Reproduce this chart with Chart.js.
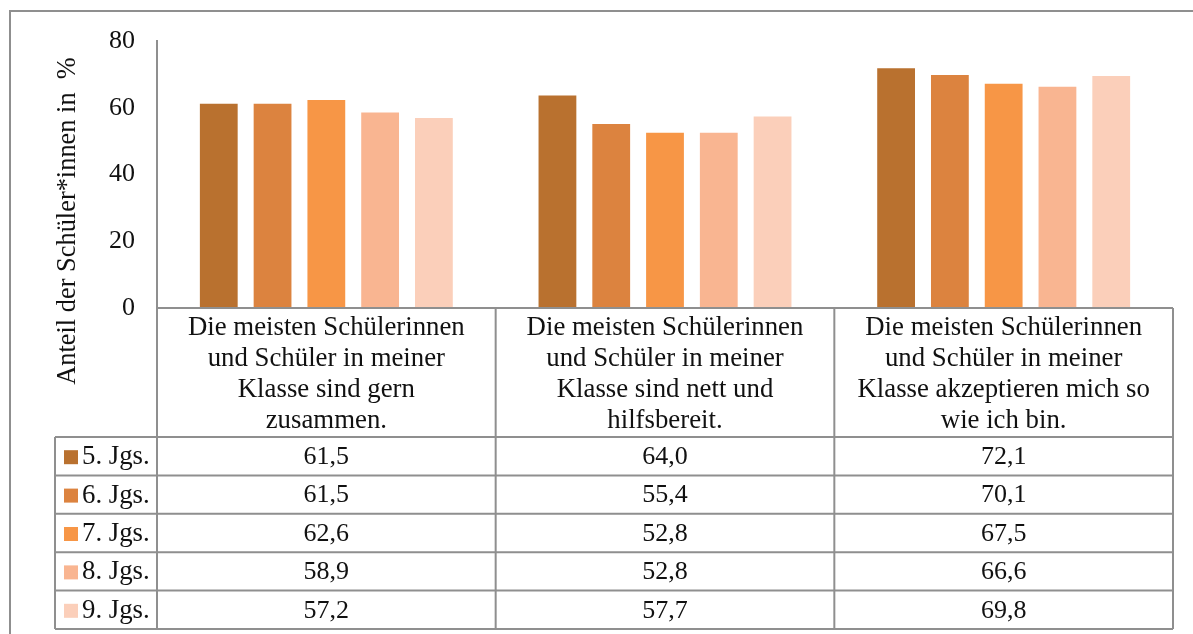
<!DOCTYPE html>
<html>
<head>
<meta charset="utf-8">
<script src="https://cdn.jsdelivr.net/npm/chart.js@4"></script>
<style>
  html, body { margin: 0; padding: 0; background: #fff; }
  #wrap { width: 1193px; height: 634px; position: relative; }
</style>
</head>
<body>
<div id="wrap"><canvas id="chart"></canvas></div>
<script>
// ── data ──
const categories = [
  ['Die meisten Schülerinnen', 'und Schüler in meiner', 'Klasse sind gern', 'zusammen.'],
  ['Die meisten Schülerinnen', 'und Schüler in meiner', 'Klasse sind nett und', 'hilfsbereit.'],
  ['Die meisten Schülerinnen', 'und Schüler in meiner', 'Klasse akzeptieren mich so', 'wie ich bin.'],
];
const seriesNames = ['5. Jgs.', '6. Jgs.', '7. Jgs.', '8. Jgs.', '9. Jgs.'];
const jgs5 = [61.5, 64.0, 72.1];
const jgs6 = [61.5, 55.4, 70.1];
const jgs7 = [62.6, 52.8, 67.5];
const jgs8 = [58.9, 52.8, 66.6];
const jgs9 = [57.2, 57.7, 69.8];
const yTicks = [0, 20, 40, 60, 80];
const yTitle = 'Anteil der Schüler*innen in  %';

const seriesValues = [jgs5, jgs6, jgs7, jgs8, jgs9];
const colors = ['#B9712F', '#DC833F', '#F79646', '#F9B591', '#FBCFBA'];

const FONT = '"Liberation Serif", "Times New Roman", serif';
const LINE = '#8f8f8f';

/** Draws frame, axis title and the data table under the plot */
const tablePlugin = {
  id: 'dataTable',
  afterDraw(chart) {
    const ctx = chart.ctx;
    const area = chart.chartArea;
    const x = chart.scales.x;
    const colW = x.width / categories.length;
    const headerBottom = 437;
    const rowH = 38.4;
    const tableBottom = headerBottom + rowH * seriesNames.length;
    const legLeft = 55;

    ctx.save();
    ctx.strokeStyle = LINE;
    ctx.lineWidth = 2;

    // outer frame (runs off the right and bottom edges)
    ctx.beginPath();
    ctx.moveTo(10, 640); ctx.lineTo(10, 11); ctx.lineTo(1200, 11);
    ctx.stroke();

    // table grid
    ctx.beginPath();
    ctx.moveTo(area.left, area.bottom); ctx.lineTo(area.right, area.bottom);
    ctx.moveTo(area.left, area.top); ctx.lineTo(area.left, tableBottom);
    for (let i = 1; i <= categories.length; i++) {
      const cx = area.left + colW * i;
      ctx.moveTo(cx, area.bottom); ctx.lineTo(cx, tableBottom);
    }
    for (let r = 0; r <= seriesNames.length; r++) {
      const y = headerBottom + rowH * r;
      ctx.moveTo(legLeft, y); ctx.lineTo(area.right, y);
    }
    ctx.moveTo(legLeft, headerBottom); ctx.lineTo(legLeft, tableBottom);
    ctx.stroke();

    // header labels
    ctx.fillStyle = '#111';
    ctx.font = '26.8px ' + FONT;
    ctx.textAlign = 'center';
    ctx.textBaseline = 'middle';
    categories.forEach((lines, i) => {
      const cx = x.getPixelForValue(i);
      lines.forEach((t, j) => ctx.fillText(t, cx, 328 + j * 31));
    });

    // rows
    seriesNames.forEach((name, r) => {
      const cy = headerBottom + rowH * r + rowH / 2 + 1;
      ctx.fillStyle = colors[r];
      ctx.fillRect(64, cy - 7, 14, 14);
      ctx.fillStyle = '#111';
      ctx.textAlign = 'left';
      ctx.font = '26.8px ' + FONT;
      ctx.fillText(name, 82, cy);
      ctx.textAlign = 'center';
      ctx.font = '26px ' + FONT;
      seriesValues[r].forEach((v, i) => {
        ctx.fillText(v.toFixed(1).replace('.', ','), x.getPixelForValue(i), cy);
      });
    });

    // y axis title
    ctx.font = '26.4px ' + FONT;
    ctx.translate(68, 221);
    ctx.rotate(-Math.PI / 2);
    ctx.textAlign = 'center';
    ctx.fillText(yTitle, 0, 0);
    ctx.restore();
  },
};

new Chart(document.getElementById('chart'), {
  type: 'bar',
  data: {
    labels: categories.map(c => c.join(' ')),
    datasets: seriesNames.map((name, i) => ({
      label: name,
      data: seriesValues[i],
      backgroundColor: colors[i],
      borderColor: 'rgba(255,255,255,0.5)',
      borderWidth: 1,
      categoryPercentage: 0.794,
      barPercentage: 0.74,
    })),
  },
  options: {
    responsive: true,
    maintainAspectRatio: false,
    animation: false,
    layout: { padding: { left: 0, top: 41, right: 20, bottom: 326 } },
    plugins: { legend: { display: false }, tooltip: { enabled: false } },
    scales: {
      x: { display: false },
      y: {
        min: 0,
        max: 80,
        afterFit(scale) { scale.width = 157; },
        afterBuildTicks(scale) { scale.ticks = yTicks.map(v => ({ value: v })); },
        grid: { display: false, drawTicks: false },
        border: { display: true, color: LINE, width: 2 },
        ticks: {
          color: '#111',
          padding: 22,
          font: { family: FONT, size: 26 },
        },
      },
    },
  },
  plugins: [tablePlugin],
});
</script>
</body>
</html>
